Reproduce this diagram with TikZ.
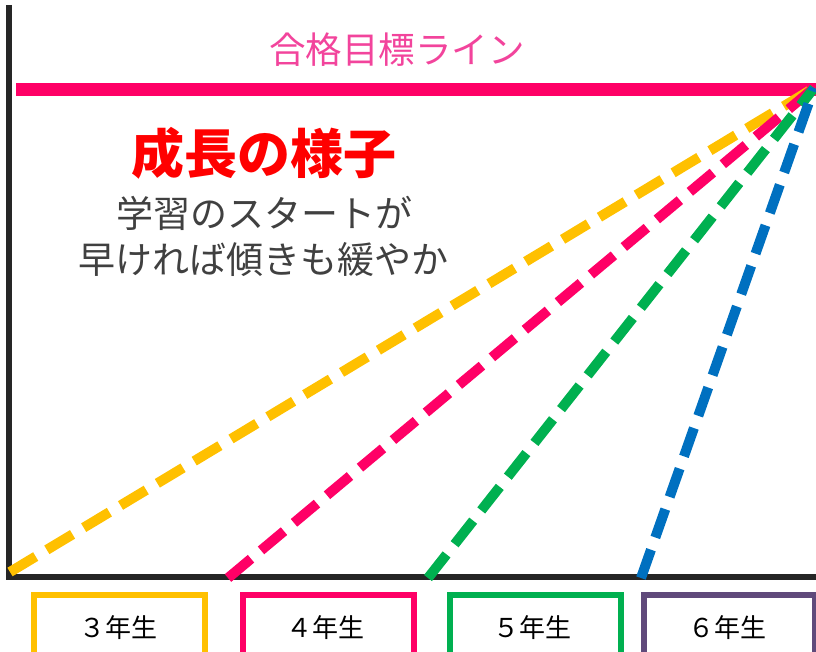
\documentclass[tikz,border=0pt]{standalone}
\usepackage{fontspec}
\setmainfont{Noto Sans CJK JP}
\definecolor{cyellow}{HTML}{FFC000}
\definecolor{cpink}{HTML}{FF0066}
\definecolor{cgreen}{HTML}{00B050}
\definecolor{cblue}{HTML}{0070C0}
\definecolor{cpurple}{HTML}{604A7B}
\definecolor{ctitle}{HTML}{F2449C}
\definecolor{caxis}{HTML}{262626}
\definecolor{cgray}{HTML}{404040}
\begin{document}
\begin{tikzpicture}[x=1pt,y=-1pt,
  growline/.style={line width=10pt, dash pattern=on 30pt off 13pt},
  yearbox/.style={draw, line width=5.5pt, minimum width=171pt, minimum height=90pt, inner sep=0pt},
  yearlabel/.style={font=\fontsize{26}{30}\selectfont, text=black, inner sep=0pt},
  axisline/.style={line width=6.5pt, draw=caxis}]
\useasboundingbox (0,0) rectangle (816,652);
\clip (0,0) rectangle (816,652);
% axes
\coordinate (ytop) at (9,5);
\coordinate (origin) at (9,577);
\coordinate (xend) at (820,577);
\draw[axisline, line cap=butt] (ytop) -- (origin) -- (xend);
% target line
\coordinate (tl) at (16,90);
\coordinate (tr) at (820,90);
\draw[line width=13pt, draw=cpink] (tl) -- (tr);
\node[font=\fontsize{36.5}{40}\selectfont, text=ctitle, inner sep=0pt] (goal) at (397,50) {合格目標ライン};
% title texts
\node[font=\fontsize{53}{60}\selectfont\bfseries, text=red, inner sep=0pt] (title) at (264,153) {成長の様子};
\node[font=\fontsize{37}{42}\selectfont, text=cgray, inner sep=0pt] (sub1) at (264,213) {学習のスタートが};
\node[font=\fontsize{37}{42}\selectfont, text=cgray, inner sep=0pt] (sub2) at (263,260) {早ければ傾きも緩やか};
% convergence point
\coordinate (top) at (814,88);
\coordinate (s3) at (10,572);
\coordinate (s4) at (228,578);
\coordinate (s5) at (428,578);
\coordinate (s6) at (641,578);
\draw[growline, draw=cyellow] (s3) -- (top);
\draw[growline, draw=cpink] (s4) -- (top);
\draw[growline, draw=cgreen] (s5) -- (top);
\draw[growline, draw=cblue] (s6) -- (top);
% boxes
\node[yearbox, draw=cyellow, anchor=north west] (b3) at (31,592) {};
\node[yearbox, draw=cpink, anchor=north west] (b4) at (240,592) {};
\node[yearbox, draw=cgreen, anchor=north west] (b5) at (447,592) {};
\node[yearbox, draw=cpurple, anchor=north west] (b6) at (641,592) {};
\node[yearlabel] (l3) at (118,628) {３年生};
\node[yearlabel] (l4) at (325,628) {４年生};
\node[yearlabel] (l5) at (532,628) {５年生};
\node[yearlabel] (l6) at (727,628) {６年生};
\end{tikzpicture}
\end{document}
